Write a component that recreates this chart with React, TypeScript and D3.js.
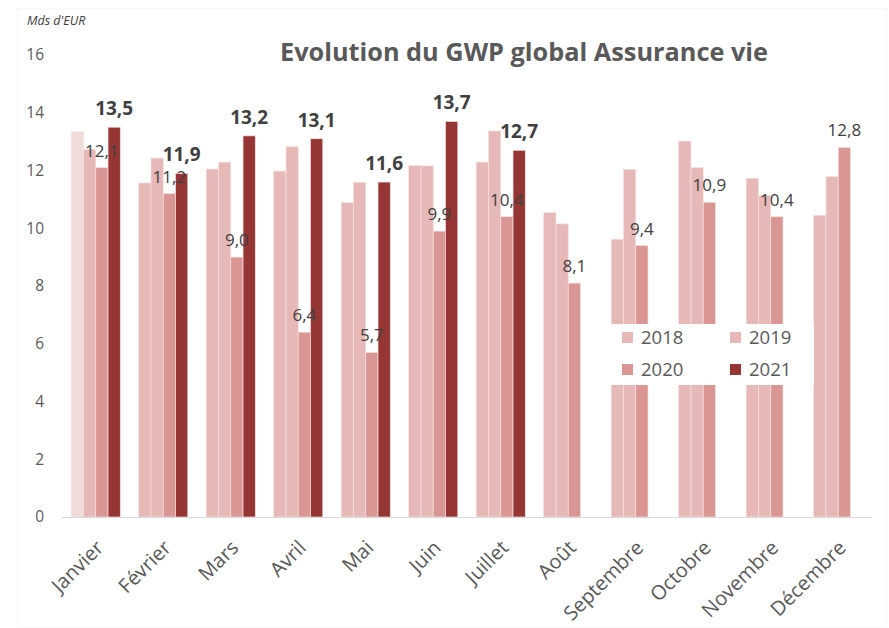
import React from "react";
import * as d3 from "d3";

const months = ["Janvier","Février","Mars","Avril","Mai","Juin","Juillet","Août","Septembre","Octobre","Novembre","Décembre"];
const years = ["2018","2019","2020","2021"];
const v2018 = [13.34,11.57,12.05,11.98,10.89,12.17,12.29,10.54,9.62,13.02,11.73,10.45];
const v2019 = [12.73,12.43,12.29,12.82,11.59,12.16,13.37,10.15,12.04,12.1,11.14,11.79];
const v2020 = [12.1,11.2,9.0,6.4,5.7,9.9,10.4,8.1,9.4,10.9,10.4,12.8];
const v2021: (number|null)[] = [13.5,11.9,13.2,13.1,11.6,13.7,12.7,null,null,null,null,null];
const yTicks = [0,2,4,6,8,10,12,14,16];
const colors = ["#E6B8B7","#E6B8B7","#DA9694","#963634"];
const janHighlight = "#F2DCDB";

const W = 889, H = 628;
const left = 62, right = 872, top = 55, bottom = 517;
const FONT = "'Open Sans', 'Liberation Sans', sans-serif";

export default function App() {
  const x = d3.scaleBand<string>().domain(months).range([left, right]).paddingInner(0).paddingOuter(0);
  const groupW = x.bandwidth();
  const barW = groupW / 5.5;
  const gap = groupW - barW * 4;
  const y = d3.scaleLinear().domain([0, 16]).range([bottom, top]);
  const series = [v2018, v2019, v2020, v2021];
  const fmt = (v: number) => v.toFixed(1).replace(".", ",");

  return (
    <svg width={W} height={H} style={{ position: "absolute", left: 0, top: 0, background: "#fff" }} fontFamily={FONT}>
      <rect x={17.5} y={8.5} width={W - 20} height={H - 9} fill="#fff" stroke="#F7F7F7" />
      <text x={27} y={25} fontSize={12.5} fontStyle="italic" fill="#404040">Mds d'EUR</text>
      <text x={524} y={61} textAnchor="middle" fontSize={25.3} fontWeight="bold" fill="#595959">Evolution du GWP global Assurance vie</text>
      {yTicks.map(t => (
        <text key={t} x={44} y={y(t)} dy="0.35em" textAnchor="end" fontSize={15.5} fill="#595959">{t}</text>
      ))}
      {months.map((m, i) => (
        <g key={m}>
          {series.map((s, k) => {
            const v = s[i];
            if (v == null) return null;
            const bx = (x(m) as number) + gap / 2 + k * barW;
            const fill = (i === 0 && k === 0) ? janHighlight : colors[k];
            return (
              <rect key={k} x={bx} y={y(v)} width={barW} height={bottom - y(v)} fill={fill} stroke="#F4E1E0" strokeWidth={0.7} />
            );
          })}
        </g>
      ))}
      <line x1={left} x2={right} y1={bottom + 0.5} y2={bottom + 0.5} stroke="#D9D9D9" strokeWidth={1} />
      {/* Legend */}
      <rect x={610} y={324} width={204} height={61} fill="#fff" />
      {years.map((yr, k) => {
        const lx = k % 2 === 0 ? 622 : 730;
        const ly = k < 2 ? 338 : 370;
        return (
          <g key={yr}>
            <rect x={lx} y={ly - 6} width={11} height={11} fill={colors[k]} />
            <text x={lx + 19} y={ly} dy="0.35em" fontSize={18.5} fill="#595959">{yr}</text>
          </g>
        );
      })}
      {/* Data labels */}
      {months.map((m, i) => {
        const out: React.ReactNode[] = [];
        const v20 = v2020[i];
        const cx20 = (x(m) as number) + gap / 2 + 2.5 * barW;
        out.push(<text key="a" x={cx20} y={y(v20) - 11} textAnchor="middle" fontSize={17} fill="#404040">{fmt(v20)}</text>);
        const v21 = v2021[i];
        if (v21 != null) {
          const cx21 = (x(m) as number) + gap / 2 + 3.5 * barW;
          out.push(<text key="b" x={cx21} y={y(v21) - 12} textAnchor="middle" fontSize={19} fontWeight="bold" fill="#404040">{fmt(v21)}</text>);
        }
        return <g key={m}>{out}</g>;
      })}
      {/* X labels */}
      {months.map(m => {
        const cx = (x(m) as number) + groupW / 2 + 9;
        const cy = bottom + 32;
        return (
          <text key={m} transform={`translate(${cx},${cy}) rotate(-45)`} textAnchor="end" fontSize={20} fill="#595959">{m}</text>
        );
      })}
    </svg>
  );
}
